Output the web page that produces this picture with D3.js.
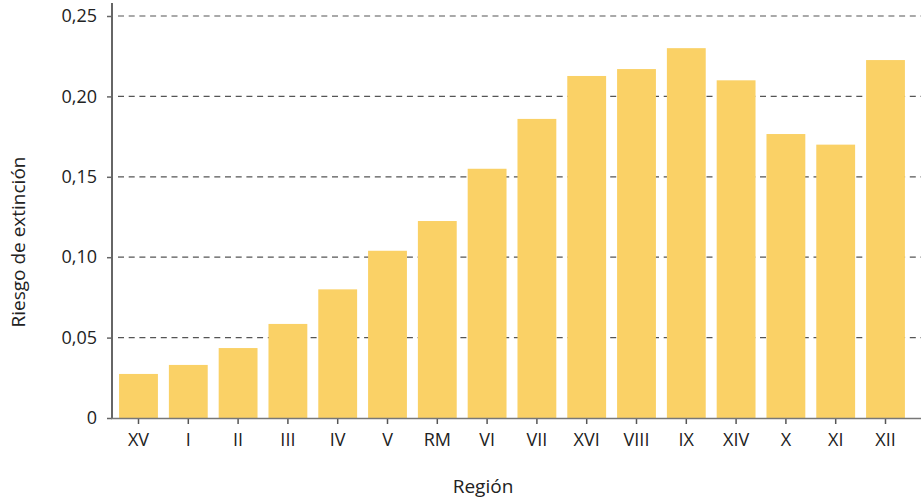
<!DOCTYPE html>
<html>
<head>
<meta charset="utf-8">
<script src="https://cdn.jsdelivr.net/npm/d3@7"></script>
<style>
  body { margin: 0; background: #fff; }
  text { font-family: "Open Sans", sans-serif; fill: #222; }
</style>
</head>
<body>
<script>
// Data
// =================================
let regiones = ['XV', 'I', 'II', 'III', 'IV', 'V', 'RM', 'VI', 'VII', 'XVI', 'VIII', 'IX', 'XIV', 'X', 'XI', 'XII'];
let riesgo = [0.0274, 0.033, 0.0435, 0.0585, 0.080, 0.104, 0.1225, 0.155, 0.186, 0.2127, 0.217, 0.230, 0.210, 0.1766, 0.170, 0.2226];
let yTicks = [0, 0.05, 0.10, 0.15, 0.20, 0.25];

let svgWidth = 921;
let svgHeight = 501;

let svg = d3.select("body")
  .append("svg")
  .attr("width", svgWidth)
  .attr("height", svgHeight);

// Scales
// =================================
let xScale = d3.scaleBand()
  .domain(regiones)
  .range([113.6, 910.4])
  .paddingInner(0.22)
  .paddingOuter(0.11);

let yScale = d3.scaleLinear()
  .domain([0, 0.25])
  .range([418, 16]);

let fmt = d => d === 0 ? "0" : d3.format(".2f")(d).replace(".", ",");

// gridlines (behind bars)
svg.append("g")
  .selectAll("line")
  .data(yTicks.filter(d => d > 0))
  .enter()
  .append("line")
  .attr("x1", 118)
  .attr("x2", svgWidth)
  .attr("y1", d => yScale(d))
  .attr("y2", d => yScale(d))
  .attr("stroke", "#555")
  .attr("stroke-width", 1.2)
  .attr("stroke-dasharray", "6,4.7");

// bars
svg.append("g")
  .selectAll("rect")
  .data(regiones)
  .enter()
  .append("rect")
  .attr("x", d => xScale(d))
  .attr("y", (d, i) => yScale(riesgo[i]))
  .attr("width", xScale.bandwidth())
  .attr("height", (d, i) => yScale(0) - yScale(riesgo[i]))
  .attr("fill", "#FAD166");

// y axis
let yAxis = svg.append("g")
  .attr("transform", "translate(112,0)")
  .call(d3.axisLeft(yScale).tickValues(yTicks).tickFormat(fmt).tickSize(5).tickPadding(10));
yAxis.select(".domain").remove();
yAxis.selectAll(".tick line").attr("stroke", "#666").attr("stroke-width", 1.5);
yAxis.selectAll(".tick text").attr("font-size", "18px").attr("fill", "#222").attr("font-family", "Open Sans");
svg.append("line")
  .attr("x1", 112).attr("x2", 112)
  .attr("y1", 3).attr("y2", 419)
  .attr("stroke", "#666")
  .attr("stroke-width", 2);

// x axis
let xAxis = svg.append("g")
  .attr("transform", "translate(0,418)")
  .call(d3.axisBottom(xScale).tickSize(6).tickPadding(9));
xAxis.select(".domain").remove();
xAxis.selectAll(".tick line").attr("stroke", "#555").attr("stroke-width", 1.5);
xAxis.selectAll(".tick text").attr("font-size", "18px").attr("fill", "#222").attr("font-family", "Open Sans");
svg.append("line")
  .attr("x1", 111).attr("x2", svgWidth)
  .attr("y1", 418.5).attr("y2", 418.5)
  .attr("stroke", "#777")
  .attr("stroke-width", 1.5);

// axis titles
svg.append("text")
  .attr("transform", "translate(25,242) rotate(-90)")
  .attr("text-anchor", "middle")
  .attr("font-size", "19px")
  .text("Riesgo de extinción");

svg.append("text")
  .attr("x", 483)
  .attr("y", 493)
  .attr("text-anchor", "middle")
  .attr("font-size", "19px")
  .text("Región");
</script>
</body>
</html>
